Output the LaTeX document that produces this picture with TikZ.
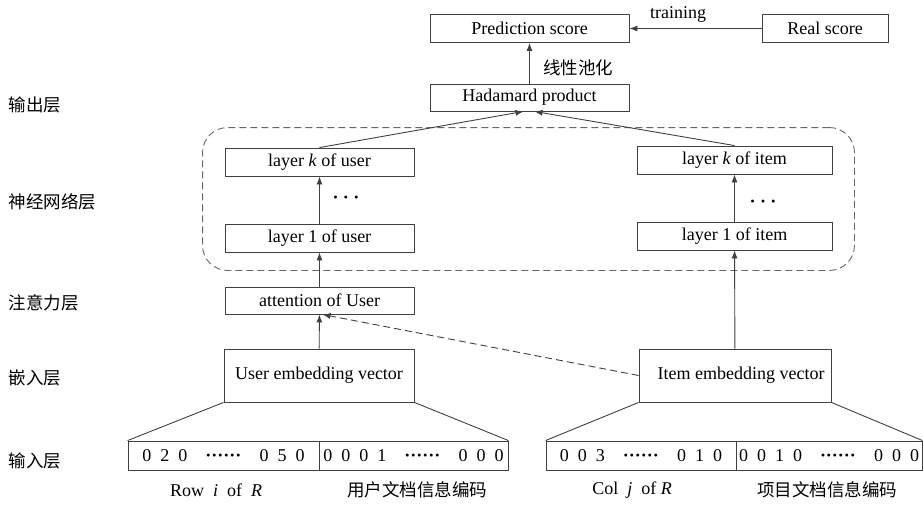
\documentclass[tikz,border=0pt]{standalone}
\usepackage{fontspec}
\setmainfont{Liberation Serif}
\newfontfamily\cjk{Noto Sans CJK SC}
\usetikzlibrary{arrows.meta,fit}

\newcommand{\rowdots}{\textbf{\textperiodcentered\textperiodcentered\textperiodcentered\textperiodcentered\textperiodcentered\textperiodcentered}}

\begin{document}
\begin{tikzpicture}[x=1pt,y=-1pt]
        \tikzset{box/.style={draw=black!75,line width=0.9pt,minimum height=28pt,inner sep=0pt,font=\fontsize{18}{21}\selectfont},
            link/.style={draw=black!75,line width=0.9pt,-{Latex[length=8pt,width=6pt]}},
            edge line/.style={draw=black!75,line width=0.9pt},
            side/.style={anchor=west,font=\cjk\fontsize{17.5}{20}\selectfont},
            note/.style={font=\fontsize{18}{21}\selectfont},
            cjknote/.style={font=\cjk\fontsize{17.5}{20}\selectfont}}
        \useasboundingbox (0,0) rectangle (923,504);
        \node[box,minimum width=199pt] (pred) at (529.5,28.5) {Prediction score};
        \node[box,minimum width=126pt] (real) at (825,28.5) {Real score};
        \node[box,minimum width=199pt,minimum height=27pt] (hada) at (529.5,97.5) {Hadamard product};
        \node[box,minimum width=189pt] (userk) at (319.5,162) {layer \textit{k} of user};
        \node[box,minimum width=189pt] (user1) at (319.5,238) {layer 1 of user};
        \node[box,minimum width=195pt] (itemk) at (734.5,160) {layer \textit{k} of item};
        \node[box,minimum width=195pt] (item1) at (734.5,236) {layer 1 of item};
        \node[box,minimum width=189pt,minimum height=27pt] (att) at (319.5,300.5) {attention of User};
        \node[box,minimum width=190pt,minimum height=53pt] (uemb) at (319,375.5) {User embedding vector};
        \node[box,minimum width=192pt,minimum height=53pt] (iemb) at (735,375.5) {\hspace{12pt}Item embedding vector};
        \node[box,minimum width=191pt,minimum height=29pt] (uin1) at (223.5,455.5) {0\enspace 2\enspace 0\quad\rowdots\quad 0\enspace 5\enspace 0};
        \node[box,minimum width=189pt,minimum height=29pt] (uin2) at (413.5,455.5) {0\enspace 0\enspace 0\enspace 1\quad\rowdots\quad 0\enspace 0\enspace 0};
        \node[box,minimum width=190pt,minimum height=29pt] (iin1) at (641,455.5) {0\enspace 0\enspace 3\quad\rowdots\quad 0\enspace 1\enspace 0};
        \node[box,minimum width=186pt,minimum height=29pt] (iin2) at (829,455.5) {0\enspace 0\enspace 1\enspace 0\quad\rowdots\quad 0\enspace 0\enspace 0};
        \node[draw=black!60,line width=0.9pt,dash pattern=on 7pt off 4pt,rounded corners=25pt,inner xsep=22pt,inner ysep=18pt,fit=(userk)(user1)(itemk)(item1)] (nn) {};
        \node[note] (udots) at (346,200) {\textbf{\textperiodcentered\ \textperiodcentered\ \textperiodcentered}};
        \node[note] (idots) at (763,204) {\textbf{\textperiodcentered\ \textperiodcentered\ \textperiodcentered}};
        \node[note] (train) at (678,14) {training};
        \node[cjknote] (pool) at (578,68) {线性池化};
        \node[side] (out) at (5,105) {输出层};
        \node[side] (net) at (5,202) {神经网络层};
        \node[side] (attl) at (5,303) {注意力层};
        \node[side] (emb) at (5,378) {嵌入层};
        \node[side] (inp) at (5,461) {输入层};
        \node[note] (rowr) at (216,490) {Row~~\textit{i}~~of~~\textit{R}};
        \node[cjknote] (udoc) at (417,490) {用户文档信息编码};
        \node[note] (colr) at (632,490) {Col~~\textit{j}~~of~\textit{R}};
        \node[cjknote] (idoc) at (827,490) {项目文档信息编码};
        \draw[link] (real) -- (pred);
        \draw[link] (hada) -- (pred);
        \draw[link] (userk.north) -- ([xshift=-6pt]hada.south);
        \draw[link] (itemk.north) -- ([xshift=5pt]hada.south);
        \draw[link] (user1) -- (userk);
        \draw[link] (item1) -- (itemk);
        \draw[link] (att) -- (user1);
        \draw[link] (uemb) -- (att);
        \draw[link] (iemb) -- (item1);
        \draw[link,dash pattern=on 7pt off 4pt] (iemb.west) -- ([xshift=3pt]att.south);
        \draw[edge line] (uemb.south west) -- (uin1.north west);
        \draw[edge line] (uemb.south east) -- (uin2.north east);
        \draw[edge line] (iemb.south west) -- (iin1.north west);
        \draw[edge line] (iemb.south east) -- (iin2.north east);
    \end{tikzpicture}
\end{document}
